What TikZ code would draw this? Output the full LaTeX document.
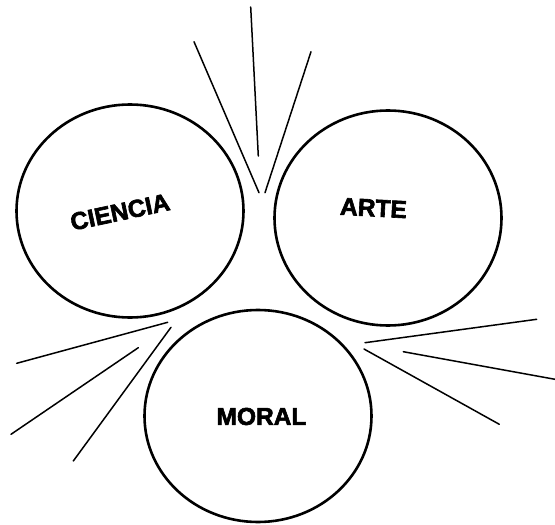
\documentclass[tikz,border=0pt]{standalone}
\usepackage{fontspec}
\newfontfamily\heavy{Liberation Sans Bold}[FakeBold=2.5]
\usetikzlibrary{shapes.geometric}
\tikzset{
  bubble/.style={draw=black, line width=2.6pt, ellipse, inner sep=0pt},
  lbl/.style={font=\heavy\fontsize{24.5}{27}\selectfont, inner sep=0pt},
  ray/.style={draw=black, line width=1.5pt, line cap=round}
}
\begin{document}
\begin{tikzpicture}[x=1pt,y=-1pt]
\useasboundingbox (0,0) rectangle (555,525);
\fill[white] (0,0) rectangle (555,525);
% circles
\node[bubble, minimum width=227pt, minimum height=213pt] (ciencia) at (130,211) {};
\node[bubble, minimum width=227pt, minimum height=215pt] (arte) at (388,218) {};
\node[bubble, minimum width=227pt, minimum height=212pt] (moral) at (258,416) {};
% labels
\node[lbl, rotate=12] (tciencia) at (120,212) {CIENCIA};
\node[lbl, rotate=-3] (tarte) at (373.5,208) {ARTE};
\node[lbl] (tmoral) at (261.5,416.5) {MORAL};
% top rays
\draw[ray] (250.7,7) -- (258.3,156);
\draw[ray] (194,41.7) -- (259,192.7);
\draw[ray] (311,51.7) -- (265,192.7);
% left rays
\draw[ray] (16.7,363.3) -- (167.7,322.3);
\draw[ray] (11,434.3) -- (138.3,347.7);
\draw[ray] (73.3,461) -- (171,327.3);
% right rays
\draw[ray] (365,342.7) -- (536.7,319.3);
\draw[ray] (403.3,351.7) -- (555,379.3);
\draw[ray] (364,349) -- (499.3,424.3);
\end{tikzpicture}
\end{document}
